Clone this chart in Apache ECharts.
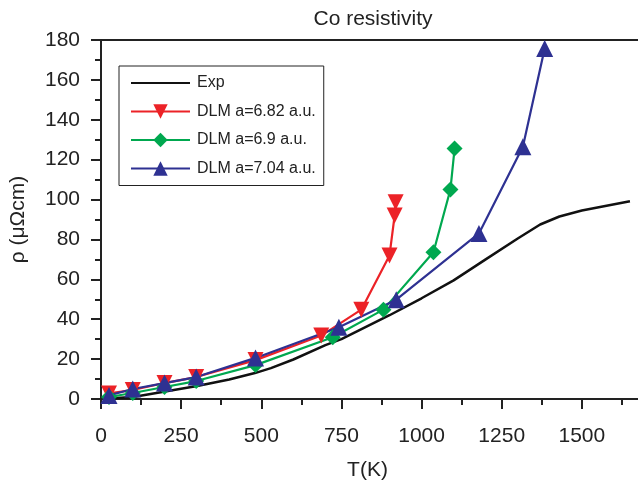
<!DOCTYPE html>
<html>
<head>
<meta charset="utf-8">
<script src="https://cdn.jsdelivr.net/npm/echarts@6/dist/echarts.min.js"></script>
<style>
  html, body { margin: 0; padding: 0; background: #fff; }
  #main { width: 638px; height: 483px; }
</style>
</head>
<body>
<div id="main"></div>
<script>
// Exp curve (T in K, rho in uOhm cm)
var expT = [20, 100, 200, 300, 400, 480, 530, 600, 700, 750, 800, 900, 1000, 1100, 1200, 1300, 1370, 1430, 1500, 1650];
var expRho = [0.3, 1, 3.8, 6.5, 9.8, 13, 15.5, 19.8, 27, 30, 34, 42, 50.5, 59.5, 70, 80.5, 87.5, 91.5, 94.5, 99.2];

// DLM a=6.82 a.u.
var redT = [25, 99, 198, 297, 482, 687, 812, 900, 916, 919];
var redRho = [2.8, 4.5, 8, 11, 19.5, 31.8, 44.8, 72, 92, 98.7];

// DLM a=6.9 a.u.
var greenT = [25, 99, 198, 297, 482, 723, 881, 1037, 1090, 1103];
var greenRho = [1, 3, 6, 9, 17, 31, 44.8, 73.6, 105, 125.6];

// DLM a=7.04 a.u.
var blueT = [25, 99, 198, 297, 482, 742, 921, 1179, 1316, 1384];
var blueRho = [1.8, 5, 8, 11, 20.6, 36, 49.8, 83, 126.5, 175.7];

var seriesNames = ['Exp', 'DLM a=6.82 a.u.', 'DLM a=6.9 a.u.', 'DLM a=7.04 a.u.'];

function pairs(xs, ys) {
  var out = [];
  for (var i = 0; i < xs.length; i++) {
    out.push([xs[i], ys[i]]);
  }
  return out;
}

var font = 'Liberation Sans, Arial, Helvetica, sans-serif';
var chart = echarts.init(document.getElementById('main'), null, { renderer: 'canvas' });

var option = {
  animation: false,
  title: {
    text: 'Co resistivity',
    left: 368,
    top: 4,
    textAlign: 'center',
    textStyle: { fontFamily: font, fontSize: 21, fontWeight: 'normal', color: '#222' }
  },
  legend: {
    data: [
      { name: seriesNames[0], itemStyle: { opacity: 0 } },
      seriesNames[1], seriesNames[2], seriesNames[3]
    ],
    orient: 'vertical',
    left: 119,
    top: 66,
    padding: [9, 8, 9, 11],
    itemWidth: 59,
    itemHeight: 18,
    itemGap: 12.5,
    borderColor: '#222',
    borderWidth: 1,
    textStyle: { fontFamily: font, fontSize: 16, color: '#222', padding: [0, 0, 0, 2] }
  },
  grid: {
    show: true,
    left: 101,
    top: 40,
    width: 561,
    height: 359,
    outerBoundsMode: 'none',
    containLabel: false,
    borderColor: '#222',
    borderWidth: 2
  },
  xAxis: {
    type: 'value',
    min: 0,
    max: 1750,
    interval: 250,
    name: 'T(K)',
    nameLocation: 'middle',
    nameGap: 61,
    nameTextStyle: { fontFamily: font, fontSize: 21, color: '#222', padding: [0, 28, 0, 0] },
    axisLine: { show: true, lineStyle: { color: '#222', width: 2 } },
    axisTick: { show: true, inside: false, length: 10, lineStyle: { color: '#222', width: 2 } },
    minorTick: { show: true, splitNumber: 2, length: 6, lineStyle: { color: '#222', width: 2 } },
    axisLabel: {
      fontFamily: font, fontSize: 21, color: '#222', margin: 27,
      formatter: function (v) { return String(v); }
    },
    splitLine: { show: false }
  },
  yAxis: {
    type: 'value',
    min: 0,
    max: 180,
    interval: 20,
    name: 'ρ (μΩcm)',
    nameLocation: 'middle',
    nameGap: 72,
    nameTextStyle: { fontFamily: font, fontSize: 21, color: '#222' },
    axisLine: { show: true, lineStyle: { color: '#222', width: 2 } },
    axisTick: { show: true, inside: false, length: 10, lineStyle: { color: '#222', width: 2 } },
    minorTick: { show: true, splitNumber: 2, length: 6, lineStyle: { color: '#222', width: 2 } },
    axisLabel: { fontFamily: font, fontSize: 21, color: '#222', margin: 21 },
    splitLine: { show: false }
  },
  series: [
    {
      name: seriesNames[0],
      type: 'line',
      data: pairs(expT, expRho),
      symbol: 'none',
      color: '#111',
      lineStyle: { color: '#111', width: 2.5 }
    },
    {
      name: seriesNames[1],
      type: 'line',
      data: pairs(redT, redRho),
      symbol: 'triangle',
      symbolRotate: 180,
      symbolSize: 16,
      color: '#ec2227',
      itemStyle: { color: '#ec2227' },
      lineStyle: { color: '#ec2227', width: 2.2 }
    },
    {
      name: seriesNames[2],
      type: 'line',
      data: pairs(greenT, greenRho),
      symbol: 'diamond',
      symbolSize: 16,
      color: '#00a84f',
      itemStyle: { color: '#00a84f' },
      lineStyle: { color: '#00a84f', width: 2.2 }
    },
    {
      name: seriesNames[3],
      type: 'line',
      data: pairs(blueT, blueRho),
      symbol: 'triangle',
      symbolSize: 17,
      color: '#2e3192',
      itemStyle: { color: '#2e3192' },
      lineStyle: { color: '#2e3192', width: 2.2 }
    }
  ]
};

chart.setOption(option);
</script>
</body>
</html>
